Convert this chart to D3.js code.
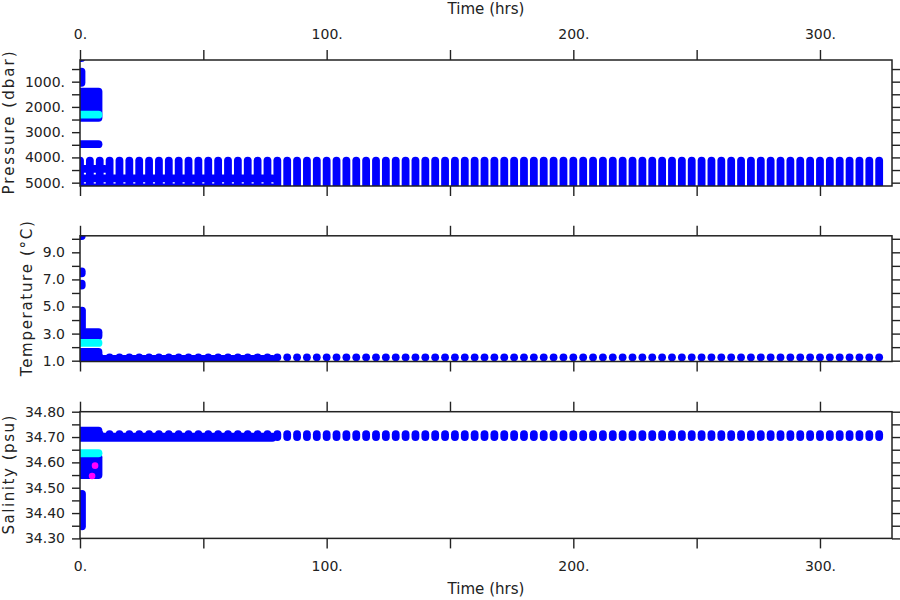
<!DOCTYPE html>
<html><head><meta charset="utf-8">
<script src="https://cdn.jsdelivr.net/npm/d3@7"></script>
<style>body{margin:0;background:#fff}</style>
</head><body><svg id="c" width="900" height="600"></svg>
<script>
// ---------- data ----------
const timeTicks = [0, 50, 100, 150, 200, 250, 300];
const timeLabelled = [0, 100, 200, 300];
const pressureTicks = [500, 1000, 1500, 2000, 2500, 3000, 3500, 4000, 4500, 5000];
const pressureLabelled = [1000, 2000, 3000, 4000, 5000];
const tempTicks = [1, 2, 3, 4, 5, 6, 7, 8, 9, 10];
const tempLabelled = [1, 3, 5, 7, 9];
const salTicks = [34.30, 34.35, 34.40, 34.45, 34.50, 34.55, 34.60, 34.65, 34.70, 34.75, 34.80];
const salLabelled = [34.30, 34.40, 34.50, 34.60, 34.70, 34.80];

// profile times (hrs) of the repeated deep profiles
const profileTimes = [0, 4, 8, 12, 16, 20, 24, 28, 32, 36, 40, 44, 48, 52, 56, 60, 64, 68, 72, 76,
  80, 84, 88, 92, 96, 100, 104, 108, 112, 116, 120, 124, 128, 132, 136, 140, 144, 148, 152, 156,
  160, 164, 168, 172, 176, 180, 184, 188, 192, 196, 200, 204, 208, 212, 216, 220, 224, 228, 232, 236,
  240, 244, 248, 252, 256, 260, 264, 268, 272, 276, 280, 284, 288, 292, 296, 300, 304, 308, 312, 316,
  320, 324];
const profilePressure = [4127, 5190];
const profileTemp = [1.25, 1.25];
const profileSal = [34.700, 34.711];

// moored sensor records [t0, t1, value]
const mooredPressure = [[0, 10, 4455], [0, 78, 4832], [0, 78, 5188]];
const mooredTemp = [[0, 78, 1.13]];
const mooredSal = [[0, 78, 34.697], [0, 78, 34.702]];

// initial cast [t0, t1, v0, v1]
const castPressureBlue = [[0.6, 0.6, 70, 70], [0.6, 0.6, 602, 1046], [0, 7.5, 1394, 2432], [0, 7.5, 3477, 3477]];
const castPressureCyan = [[0, 7.5, 2309, 2309]];
const castTempBlue = [[0.7, 0.7, 10.2, 10.2], [0.7, 0.7, 7.45, 7.6], [0.7, 0.7, 6.55, 6.68],
  [0.8, 0.8, 3.43, 4.70], [0, 7.5, 2.82, 3.10], [0, 7.5, 0.95, 1.65]];
const castTempCyan = [[0, 7.5, 2.31, 2.31]];
const castSalBlue = [[0, 7.5, 34.705, 34.725], [0, 7.5, 34.55, 34.62], [0.8, 0.8, 34.348, 34.4755]];
const castSalCyan = [[0, 7.5, 34.636, 34.636]];
const castSalMagenta = [[6.1, 34.587], [4.9, 34.546]];

// ---------- drawing ----------
const svg = d3.select("#c");
const FONT = "DejaVu Sans, sans-serif";
const INK = "#222";
const BLUE = "#0000ff", CYAN = "#00ffff", MAGENTA = "#ff00ff";
const R = 3.9;

const x = d3.scaleLinear([0, 329.2], [80, 892]);

const panels = [
  {id: "p", y: d3.scaleLinear([142, 5132], [60, 186]), ticks: pressureTicks, lab: pressureLabelled,
   fmt: d => d3.format("d")(d) + ".", title: "Pressure  (dbar)", tlen: 143, tx: 8.5,
   profile: profilePressure, moored: mooredPressure,
   layers: [[castPressureBlue, BLUE], [castPressureCyan, CYAN]], magenta: []},
  {id: "t", y: d3.scaleLinear([0.94, 10.22], [361.5, 235.8]), ticks: tempTicks, lab: tempLabelled,
   fmt: d3.format(".1f"), title: "Temperature  (°C)", tlen: 155, tx: 26.5,
   profile: profileTemp, moored: mooredTemp,
   layers: [[castTempBlue, BLUE], [castTempCyan, CYAN]], magenta: []},
  {id: "s", y: d3.scaleLinear([34.30, 34.80], [538.4, 411.7]), ticks: salTicks, lab: salLabelled,
   fmt: d3.format(".2f"), title: "Salinity  (psu)", tlen: 119, tx: 8.5,
   profile: profileSal, moored: mooredSal,
   layers: [[castSalBlue, BLUE], [castSalCyan, CYAN]], magenta: castSalMagenta}
];

function block(g, t0, t1, v0, v1, y, color) {
  const xa = x(t0) - R, xb = x(t1) + R;
  const ya = Math.min(y(v0), y(v1)) - R, yb = Math.max(y(v0), y(v1)) + R;
  g.append("rect").attr("x", xa).attr("y", ya).attr("width", xb - xa).attr("height", yb - ya)
    .attr("rx", R).attr("ry", R).attr("fill", color);
}

panels.forEach((P, i) => {
  const y = P.y;
  const [yb, yt] = y.range().slice().sort((a, b) => b - a);
  const top = Math.min(...y.range()), bot = Math.max(...y.range());
  svg.append("clipPath").attr("id", "clip" + P.id).append("rect")
    .attr("x", 80).attr("y", top).attr("width", 812).attr("height", bot - top);
  const g = svg.append("g").attr("clip-path", `url(#clip${P.id})`);

  // moored records
  P.moored.forEach(([t0, t1, v]) => block(g, t0, t1, v, v, y, BLUE));
  // repeated profiles
  profileTimes.forEach(t => block(g, t, t, P.profile[0], P.profile[1], y, BLUE));
  // initial cast
  P.layers.forEach(([arr, col]) => arr.forEach(([t0, t1, v0, v1]) => block(g, t0, t1, v0, v1, y, col)));
  g.selectAll("circle.m").data(P.magenta).join("circle").attr("class", "m")
    .attr("cx", d => x(d[0])).attr("cy", d => y(d[1])).attr("r", 3.3).attr("fill", MAGENTA);

  // frame
  svg.append("rect").attr("x", 80).attr("y", top).attr("width", 812).attr("height", bot - top)
    .attr("fill", "none").attr("stroke", INK).attr("stroke-width", 1.5);

  const style = sel => {
    sel.select(".domain").remove();
    sel.selectAll("line").attr("stroke", INK).attr("stroke-width", 1.4);
    sel.selectAll("text").attr("font-family", FONT).attr("font-size", 14).attr("fill", INK);
  };

  // x axes top & bottom
  const xTop = d3.axisTop(x).tickValues(timeTicks).tickSize(10).tickPadding(11)
    .tickFormat(d => (i === 0 && timeLabelled.includes(d)) ? d + "." : "");
  svg.append("g").attr("transform", `translate(0,${top})`).call(xTop).call(style);
  const xBot = d3.axisBottom(x).tickValues(timeTicks).tickSize(10).tickPadding(13)
    .tickFormat(d => (i === 2 && timeLabelled.includes(d)) ? d + "." : "");
  svg.append("g").attr("transform", `translate(0,${bot})`).call(xBot).call(style);

  // y axes left & right
  const yl = d3.axisLeft(y).tickValues(P.ticks).tickSize(8).tickPadding(7)
    .tickFormat(d => P.lab.some(v => Math.abs(v - d) < 1e-9) ? P.fmt(d) : "");
  svg.append("g").attr("transform", "translate(80,0)").call(yl).call(style);
  const yr = d3.axisRight(y).tickValues(P.ticks).tickSize(8).tickFormat("");
  svg.append("g").attr("transform", "translate(892,0)").call(yr).call(style);

  // y title
  const cy = (top + bot) / 2;
  svg.append("text").attr("transform", `translate(${P.tx},${cy}) rotate(-90)`)
    .attr("text-anchor", "middle").attr("dominant-baseline", "central")
    .attr("font-family", FONT).attr("font-size", 15).attr("fill", INK)
    .attr("textLength", P.tlen).attr("lengthAdjust", "spacing").text(P.title);
});

// x titles
svg.append("text").attr("x", 486).attr("y", 14).attr("text-anchor", "middle")
  .attr("font-family", FONT).attr("font-size", 15).attr("fill", INK)
  .attr("textLength", 77).attr("lengthAdjust", "spacingAndGlyphs").text("Time (hrs)");
svg.append("text").attr("x", 486).attr("y", 594).attr("text-anchor", "middle")
  .attr("font-family", FONT).attr("font-size", 15).attr("fill", INK)
  .attr("textLength", 77).attr("lengthAdjust", "spacingAndGlyphs").text("Time (hrs)");
</script></body></html>
